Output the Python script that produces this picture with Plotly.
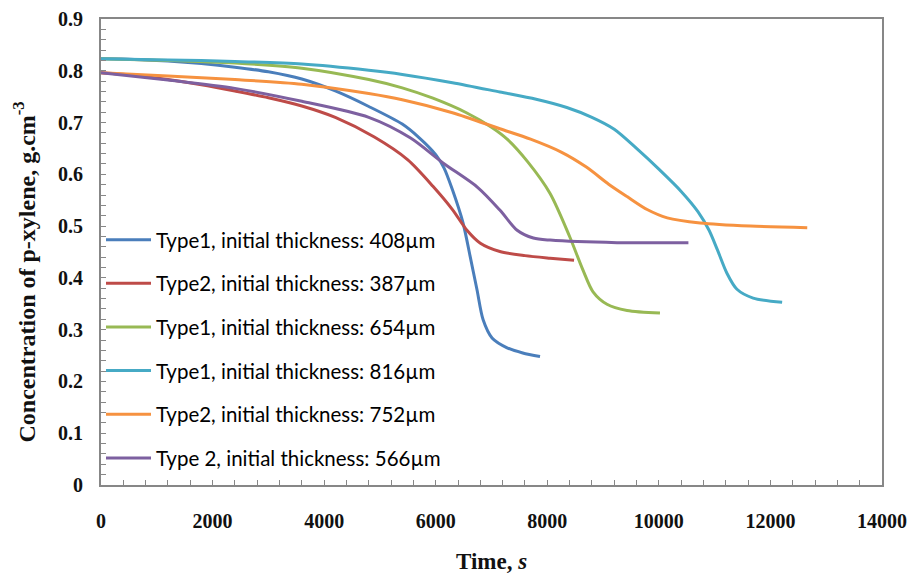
import plotly.graph_objects as go

# Concentration of p-xylene over time for six films
t_type1_408 = [0, 600, 1200, 1800, 2400, 3000, 3600, 4200, 4800, 5400, 5700, 6000, 6150,
               6300, 6490, 6620, 6740, 6850, 7010, 7280, 7560, 7870]
c_type1_408 = [0.823, 0.822, 0.819, 0.814, 0.807, 0.798, 0.784, 0.761, 0.731, 0.697, 0.671,
               0.638, 0.612, 0.570, 0.506, 0.440, 0.377, 0.319, 0.284, 0.265, 0.255, 0.248]

t_type2_387 = [0, 600, 1200, 1800, 2400, 3000, 3600, 4200, 4900, 5500, 5950, 6300, 6560,
               6800, 7150, 7600, 8050, 8480]
c_type2_387 = [0.796, 0.791, 0.783, 0.773, 0.761, 0.748, 0.732, 0.710, 0.672, 0.628, 0.577,
               0.532, 0.492, 0.467, 0.451, 0.443, 0.438, 0.434]

t_type1_654 = [0, 1200, 2400, 3600, 4800, 5400, 5950, 6550, 7000, 7280, 7650, 8050, 8400,
               8640, 8820, 9070, 9430, 10020]
c_type1_654 = [0.823, 0.820, 0.815, 0.805, 0.783, 0.767, 0.747, 0.719, 0.691, 0.668, 0.624,
               0.563, 0.480, 0.415, 0.373, 0.349, 0.337, 0.332]

t_type1_816 = [0, 1200, 2400, 3600, 4800, 5400, 6300, 7150, 7800, 8350, 8800, 9200, 9600,
               10000, 10400, 10700, 10900, 11050, 11220, 11400, 11690, 12210]
c_type1_816 = [0.823, 0.821, 0.818, 0.813, 0.801, 0.793, 0.777, 0.759, 0.745, 0.729, 0.710,
               0.687, 0.650, 0.610, 0.567, 0.528, 0.492, 0.454, 0.409, 0.378, 0.361, 0.353]

t_type2_752 = [0, 1200, 2400, 3600, 4800, 5400, 6300, 7150, 7700, 8250, 8700, 9100, 9430,
               9790, 10150, 10740, 11640, 12660]
c_type2_752 = [0.796, 0.790, 0.783, 0.774, 0.756, 0.744, 0.719, 0.688, 0.668, 0.643, 0.614,
               0.581, 0.557, 0.532, 0.516, 0.506, 0.500, 0.497]

t_type2_566 = [0, 1200, 2400, 3600, 4800, 5550, 6130, 6750, 7150, 7460, 7750, 8050, 9250,
               10530]
c_type2_566 = [0.796, 0.782, 0.766, 0.741, 0.710, 0.670, 0.622, 0.575, 0.531, 0.492, 0.477,
               0.473, 0.468, 0.468]

series_names = [
    "Type1, initial thickness: 408µm",
    "Type2, initial thickness: 387µm",
    "Type1, initial thickness: 654µm",
    "Type1, initial thickness: 816µm",
    "Type2, initial thickness: 752µm",
    "Type 2, initial thickness: 566µm",
]
series_t = [t_type1_408, t_type2_387, t_type1_654, t_type1_816, t_type2_752, t_type2_566]
series_c = [c_type1_408, c_type2_387, c_type1_654, c_type1_816, c_type2_752, c_type2_566]
colors = ["#4A7EBB", "#BE4B48", "#98B954", "#46AAC5", "#F69240", "#7D60A0"]

fig = go.Figure()
for i, (name, t, c, col) in enumerate(zip(series_names, series_t, series_c, colors)):
    fig.add_trace(go.Scatter(
        x=t, y=c, mode="lines", name=name, legendgroup=f"g{i}",
        line=dict(color=col, width=3, shape="spline", smoothing=0.8),
    ))

axis_color = "#878787"
tick_font = dict(family="Liberation Serif", size=20, color="#111", weight="bold")

fig.update_xaxes(
    range=[0, 14000], dtick=2000, tick0=0, tickformat="d", automargin=False,
    showline=True, linecolor=axis_color, linewidth=2, mirror=True,
    ticks="inside", ticklen=5, tickcolor=axis_color, tickwidth=1,
    minor=dict(dtick=400, ticks="inside", ticklen=5, tickcolor=axis_color, tickwidth=1),
    showgrid=False, zeroline=False,
    tickfont=tick_font, ticklabelstandoff=17,
)
fig.update_yaxes(
    range=[0, 0.9], dtick=0.1, tick0=0, tickformat=".1~f", automargin=False,
    showline=True, linecolor=axis_color, linewidth=2, mirror=True,
    ticks="inside", ticklen=5, tickcolor=axis_color, tickwidth=1,
    minor=dict(dtick=0.02, ticks="inside", ticklen=5, tickcolor=axis_color, tickwidth=1),
    showgrid=False, zeroline=False,
    tickfont=tick_font, ticklabelstandoff=12,
)

# Axis titles
fig.add_annotation(
    text="<b>Time, <i>s</i></b>",
    xref="paper", yref="paper", x=0.5, y=-0.165,
    showarrow=False, xanchor="center", yanchor="middle",
    font=dict(family="Liberation Serif", size=23, color="#111"),
)
fig.add_annotation(
    text="<b>Concentration of p-xylene, g.cm<sup>-3</sup></b>",
    xref="paper", yref="paper", x=-0.098, y=0.457, textangle=-90,
    showarrow=False, xanchor="center", yanchor="middle",
    font=dict(family="Liberation Serif", size=24, color="#111"),
)

fig.update_layout(
    width=915, height=579,
    margin=dict(l=101, r=33, t=19, b=94),
    paper_bgcolor="white", plot_bgcolor="white",
    showlegend=True,
    legend=dict(
        x=0.0, y=0.569, xanchor="left", yanchor="top",
        bgcolor="rgba(0,0,0,0)", borderwidth=0,
        font=dict(family="Lato", size=20.5, color="#000"),
        tracegroupgap=14, itemwidth=45,
    ),
)

fig.write_html("out.html")
